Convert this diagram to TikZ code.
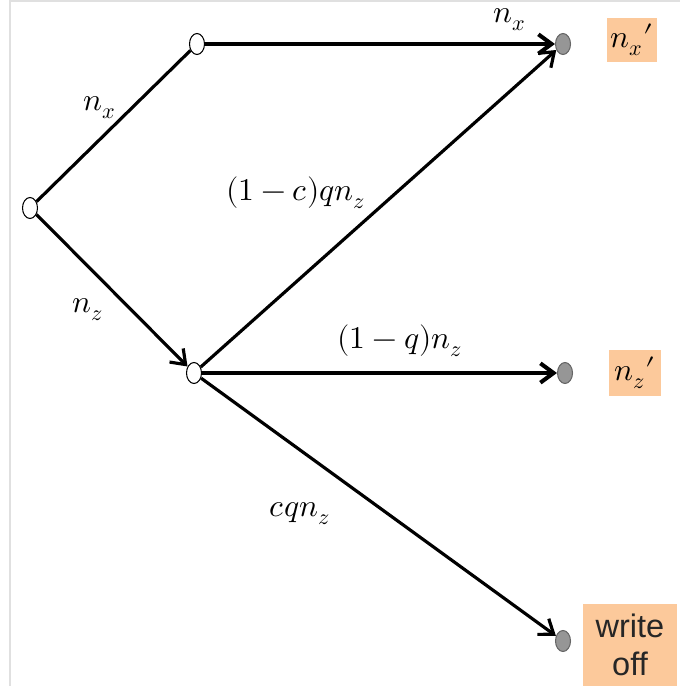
\documentclass[tikz,border=0pt]{standalone}
\usepackage{fontspec}
\usepackage{unicode-math}
\setmathfont{Latin Modern Math}
\setsansfont{Liberation Sans}
\usetikzlibrary{shapes.geometric,arrows.meta}
\definecolor{peach}{RGB}{252,201,155}
\definecolor{dotgray}{RGB}{150,150,150}
\begin{document}
\begin{tikzpicture}[x=0.02cm, y=-0.02cm,
    every node/.style={inner sep=0pt},
    open/.style={ellipse, draw, fill=white, line width=0.6pt, minimum width=0.3cm, minimum height=0.42cm},
    sink/.style={ellipse, draw=black!60, fill=dotgray, line width=0.6pt, minimum width=0.3cm, minimum height=0.42cm},
    lab/.style={font=\fontsize{18}{21}\selectfont},
    tag/.style={fill=peach, font=\fontsize{18}{21}\selectfont},
    flow/.style={line width=1.8pt, -{Straight Barb[length=7.5pt,width=11pt]}},
    flat/.style={line width=2.3pt, -{Straight Barb[length=7.5pt,width=11pt]}}]
        \useasboundingbox (0,0) rectangle (680,686);
        \draw[black!12, line width=0.6pt] (10,686) -- (10,1) -- (680,1);
        % states
        \node[open] (root) at (30,208) {};
        \node[open] (up) at (197,44) {};
        \node[open] (mid) at (194,373) {};
        \node[sink] (outx) at (563,44) {};
        \node[sink] (outz) at (565,373) {};
        \node[sink] (outw) at (563,641) {};
        % flows
        \draw[line width=1.8pt] (root)--(up);
        \draw[flow] (root)--(mid);
        \draw[flat] (up)--(outx);
        \draw[flow] (mid)--(outx);
        \draw[flat] (mid)--(outz);
        \draw[flow] (mid)--(outw);
        % rates
        \node[lab] (rx) at (510,20) {$n_x$};
        \node[lab] (rx0) at (100,108) {$n_x$};
        \node[lab] (rz0) at (88,310) {$n_z$};
        \node[lab] (rcq) at (296,193) {$(1-c)qn_z$};
        \node[lab] (rq) at (400,341) {$(1-q)n_z$};
        \node[lab] (rc) at (300,514) {$cqn_z$};
        % results
        \node[tag, minimum width=1cm, minimum height=0.9cm] (tx) at (632,40) {$n_x\prime$};
        \node[tag, minimum width=1.04cm, minimum height=0.94cm] (tz) at (635,373) {$n_z\prime$};
        \node[tag, minimum width=1.88cm, minimum height=1.64cm, align=center, text=black!85, font=\sffamily\fontsize{18.5}{22}\selectfont] (tw) at (630,645) {write\\off};
\end{tikzpicture}
\end{document}
